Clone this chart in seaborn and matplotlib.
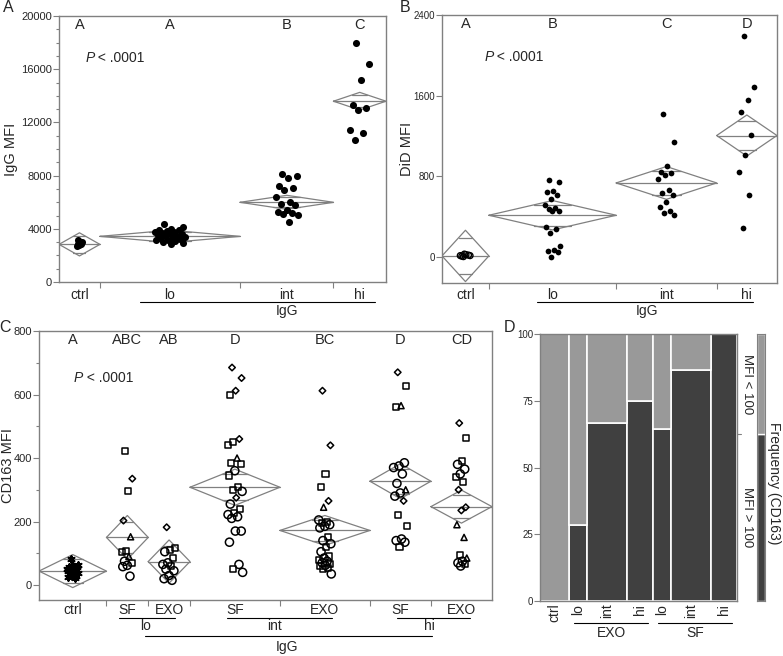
import numpy as np
import pandas as pd
import seaborn as sns
import matplotlib.pyplot as plt
from matplotlib.transforms import blended_transform_factory as blend

sns.set_style("ticks")
plt.rcParams['font.family'] = ['Liberation Sans', 'DejaVu Sans']

# ---- panel A: IgG MFI by IgG class
a_cats = ["ctrl", "lo", "int", "hi"]
a_vals = [
    [3150, 3050, 2950, 2900, 2850, 2800, 2750],
    [4400, 4150, 4000, 3950, 3900, 3850, 3800, 3750, 3700, 3650, 3600, 3550,
     3500, 3450, 3400, 3350, 3300, 3250, 3200, 3150, 3100, 3050, 2950, 2900],
    [8100, 7950, 7850, 7250, 7050, 6950, 6400, 6050, 5900, 5800, 5400, 5300,
     5200, 5100, 5050, 4500],
    [17950, 16400, 15200, 13300, 13100, 12950, 11400, 11200, 10700],
]
a_mean = [2835, 3437, 5997, 13599]
a_ci = [870, 465, 527, 665]
a_letters = ["A", "A", "B", "C"]

# ---- panel B: DiD MFI by IgG class
b_cats = ["ctrl", "lo", "int", "hi"]
b_vals = [
    [0, 10, 20, 5, 15, 25, 10],
    [765, 740, 655, 640, 615, 575, 510, 480, 470, 455, 450, 290, 275, 235,
     105, 65, 55, 50, 0],
    [1420, 1140, 905, 840, 830, 815, 770, 660, 635, 615, 540, 495, 455, 435, 415],
    [2190, 1685, 1560, 1435, 1210, 1005, 840, 615, 285],
]
b_mean = [7, 411, 732, 1203]
b_ci = [255, 146, 163, 204]
b_letters = ["A", "B", "C", "D"]

# ---- panel C: CD163 MFI by IgG class and source
c_cats = ["ctrl", "SF", "EXO", "SF", "EXO", "SF", "EXO"]
c_vals = [
    [82, 62, 60, 58, 56, 54, 52, 50, 48, 46, 45, 44, 42, 40, 38, 36, 34, 30,
     28, 25, 22],
    [423, 335, 295, 203, 152, 108, 104, 90, 75, 70, 62, 58, 28],
    [182, 118, 110, 105, 85, 70, 65, 60, 50, 45, 30, 20, 15],
    [685, 652, 612, 598, 460, 450, 440, 400, 385, 380, 360, 345, 310, 300,
     295, 275, 255, 240, 228, 222, 215, 210, 170, 170, 135, 65, 50, 40],
    [612, 440, 350, 310, 265, 245, 205, 200, 195, 190, 185, 180, 150, 140,
     130, 120, 105, 90, 85, 80, 75, 70, 65, 62, 60, 55, 50, 35],
    [670, 628, 565, 560, 385, 375, 370, 350, 320, 300, 290, 280, 265, 220,
     185, 145, 140, 135, 120],
    [510, 462, 390, 380, 365, 350, 340, 325, 300, 245, 235, 190, 150, 95, 85,
     75, 70, 65, 60],
]
c_shapes = [
    "*" * 21,
    "sDsD^ss^osooo",
    "Dssosoosooooo",
    "DDDsDss^ssossso" + "Dossoooooooso",
    "DDssD^ossooosoosososoosossso",
    "Ds^sooooo^ooDssooos",
    "DssooossDDD^^s^ooso",
]
c_mean = [44, 150, 74, 308, 172, 327, 247]
c_ci = [52, 69, 68, 57, 47, 55, 52]
c_letters = ["A", "ABC", "AB", "D", "BC", "D", "CD"]

# ---- panel D: mosaic of CD163 frequency
d_cats = ["ctrl", "lo", "int", "hi", "lo", "int", "hi"]
d_n = [11, 7, 15, 10, 7, 15, 10]
d_high = [0, 28.6, 66.7, 75, 64.3, 86.7, 100]   # % MFI > 100

GRAY = "#808080"
DARK = "#404040"
LIGHT = "#999999"


def layout(groups):
    n = np.array([len(g) for g in groups])
    edges = np.concatenate([[0], np.cumsum(n)])
    return edges, edges[:-1] + n / 2


def jitter(n, spread):
    k = np.arange(n)
    return ((k * 0.618034 + 0.31) % 1 - 0.5) * 2 * spread


def diamond(ax, x0, x1, m, h):
    xc = (x0 + x1) / 2
    kw = dict(color=GRAY, lw=0.9, zorder=2)
    ax.plot([x0, xc, x1, xc, x0], [m, m + h, m, m - h, m], **kw)
    ax.plot([x0, x1], [m, m], **kw)
    r = 1 / np.sqrt(2)
    hw = (x1 - x0) / 2 * (1 - r)
    for s in (1, -1):
        ax.plot([xc - hw, xc + hw], [m + s * h * r] * 2, **kw)


def frame(ax, ysize):
    for sp in ax.spines.values():
        sp.set_color(GRAY)
        sp.set_linewidth(1.0)
    ax.tick_params(axis='both', which='both', color=GRAY, width=0.8)
    ax.tick_params(axis='y', which='major', length=4, labelsize=ysize, pad=1)
    ax.tick_params(axis='y', which='minor', length=2)
    ax.tick_params(axis='x', which='major', length=4, labelbottom=False)


def oneway(ax, groups, means, cis, letters, cats, spreads, ylab_y, ysize):
    edges, centers = layout(groups)
    for i in range(len(groups)):
        diamond(ax, edges[i], edges[i + 1], means[i], cis[i])
    ax.set_xlim(edges[0], edges[-1])
    ax.set_xticks(edges[1:-1])
    tr = blend(ax.transData, ax.transAxes)
    for c, lab, let in zip(centers, cats, letters):
        ax.text(c, ylab_y, lab, transform=tr, ha='center', va='center', fontsize=10)
        ax.text(c, 0.966, let, transform=tr, ha='center', va='center', fontsize=10.5)
    frame(ax, ysize)
    rows = []
    for i, g in enumerate(groups):
        xs = centers[i] + jitter(len(g), spreads[i])
        for x, y in zip(xs, g):
            rows.append((i, x, y))
    return pd.DataFrame(rows, columns=["grp", "x", "y"])


def pval(ax, x, y):
    t = ax.text(x, y, "P", transform=ax.transAxes, fontsize=10,
                fontstyle='italic', va='center')
    ax.annotate(" < .0001", xy=(1, 0.5), xycoords=t, va='center',
                fontsize=10)


def bracket(ax, x0, x1, y, label=None, ly=None, lx=None):
    ax.plot([x0, x1], [y, y], transform=ax.transAxes, color='black', lw=0.8,
            clip_on=False)
    if label:
        ax.text((x0 + x1) / 2 if lx is None else lx, ly, label,
                transform=ax.transAxes, ha='center', va='center', fontsize=10)


fig = plt.figure(figsize=(7.83, 6.56), dpi=100)
ax_a = fig.add_axes([0.0754, 0.570, 0.4176, 0.4055])
ax_b = fig.add_axes([0.5645, 0.5686, 0.4278, 0.4085])
ax_c = fig.add_axes([0.0498, 0.0854, 0.5785, 0.410])
ax_d = fig.add_axes([0.6897, 0.0838, 0.2516, 0.407])
ax_s = fig.add_axes([0.9668, 0.0838, 0.0102, 0.407])

# ---------------- A
df_a = oneway(ax_a, a_vals, a_mean, a_ci, a_letters, a_cats,
              [0.5, 2.7, 2.0, 1.8], -0.049, 8)
sns.scatterplot(data=df_a, x="x", y="y", ax=ax_a, color='black', s=26,
                linewidth=0, legend=False, zorder=3)
ax_a.set_ylim(0, 20000)
ax_a.set_yticks(np.arange(0, 20001, 4000))
ax_a.set_yticks(np.arange(0, 20001, 1000), minor=True)
ax_a.set_xlabel("")
ax_a.set_ylabel("IgG MFI", fontsize=10.5)
ax_a.yaxis.set_label_coords(-0.125, 0.5)
pval(ax_a, 0.08, 0.842)
bracket(ax_a, 0.248, 0.966, -0.075, "IgG", -0.109, 0.697)

# ---------------- B
df_b = oneway(ax_b, b_vals, b_mean, b_ci, b_letters, b_cats,
              [0.8, 1.2, 1.3, 1.2], -0.045, 7)
sns.scatterplot(data=df_b[df_b.grp > 0], x="x", y="y", ax=ax_b, color='black',
                s=17, linewidth=0, legend=False, zorder=3)
sns.scatterplot(data=df_b[df_b.grp == 0], x="x", y="y", ax=ax_b,
                facecolor='none', edgecolor='black', s=18, linewidth=1.0,
                legend=False, zorder=3)
ax_b.set_ylim(-262, 2400)
ax_b.set_yticks([0, 800, 1600, 2400])
ax_b.set_xlabel("")
ax_b.set_ylabel("DiD MFI", fontsize=10.5)
ax_b.yaxis.set_label_coords(-0.084, 0.5)
pval(ax_b, 0.126, 0.842)
bracket(ax_b, 0.284, 0.928, -0.071, "IgG", -0.104, 0.612)

# ---------------- C
df_c = oneway(ax_c, c_vals, c_mean, c_ci, c_letters, c_cats,
              [1.8, 1.8, 2.0, 2.4, 2.0, 2.2, 1.8], -0.037, 8)
df_c["shape"] = list("".join(c_shapes))
mk = {"*": ((6, 2, 0), 22), "o": ("o", 34), "s": ("s", 19),
      "D": ("D", 11), "^": ("^", 19)}
for key, (m, s) in mk.items():
    sub = df_c[df_c["shape"] == key]
    if key == "*":
        sns.scatterplot(data=sub, x="x", y="y", ax=ax_c, marker=m, s=s,
                        color='black', linewidth=1.5, legend=False, zorder=3)
    else:
        sns.scatterplot(data=sub, x="x", y="y", ax=ax_c, marker=m, s=s,
                        facecolor='none', edgecolor='black', linewidth=1.1,
                        legend=False, zorder=3)
ax_c.set_ylim(-47, 800)
ax_c.set_yticks(np.arange(0, 801, 200))
ax_c.set_yticks(np.arange(0, 801, 100), minor=True)
ax_c.set_xlabel("")
ax_c.set_ylabel("CD163 MFI", fontsize=10.5)
ax_c.yaxis.set_label_coords(-0.052, 0.5)
pval(ax_c, 0.076, 0.824)
bracket(ax_c, 0.177, 0.300, -0.067, "lo", -0.097, 0.236)
bracket(ax_c, 0.415, 0.647, -0.067, "int", -0.097, 0.521)
bracket(ax_c, 0.790, 0.951, -0.067, "hi", -0.097, 0.861)
bracket(ax_c, 0.234, 0.868, -0.134, "IgG", -0.175, 0.547)

# ---------------- D
edges = np.concatenate([[0], np.cumsum(d_n)])
high = np.array(d_high)
ax_d.bar(edges[:-1], high, width=d_n, align='edge', color=DARK,
         edgecolor='white', linewidth=1.2)
ax_d.bar(edges[:-1], 100 - high, bottom=high, width=d_n, align='edge',
         color=LIGHT, edgecolor='white', linewidth=1.2)
ax_d.set_xlim(0, edges[-1])
ax_d.set_ylim(0, 100)
ax_d.set_yticks([0, 25, 50, 75, 100])
ax_d.set_xticks([])
frame(ax_d, 7)
tr = blend(ax_d.transData, ax_d.transAxes)
for c, lab in zip(edges[:-1] + np.array(d_n) / 2, d_cats):
    ax_d.text(c, -0.01, lab, transform=tr, rotation=90, ha='center', va='top',
              fontsize=10)
bracket(ax_d, 0.173, 0.548, -0.082, "EXO", -0.12)
bracket(ax_d, 0.599, 0.975, -0.082, "SF", -0.12)

marg = float(np.sum(np.array(d_n) * high) / np.sum(d_n))
tr2 = blend(ax_d.transAxes, ax_d.transData)
ax_d.plot([1.0, 1.02], [marg, marg], transform=tr2, color=GRAY, lw=0.8,
          clip_on=False)
ax_d.text(1.05, (100 + marg) / 2, "MFI < 100", transform=tr2, rotation=-90,
          ha='center', va='center', fontsize=9.5)
ax_d.text(1.05, marg / 2, "MFI > 100", transform=tr2, rotation=-90,
          ha='center', va='center', fontsize=9.5)

ax_s.bar(0, marg, width=1, color=DARK, edgecolor='white', linewidth=1)
ax_s.bar(0, 100 - marg, bottom=marg, width=1, color=LIGHT, edgecolor='white',
         linewidth=1)
ax_s.set_xlim(-0.5, 0.5)
ax_s.set_ylim(0, 100)
ax_s.set_xticks([])
ax_s.set_yticks([])
for sp in ax_s.spines.values():
    sp.set_color(GRAY)
fig.text(0.989, 0.2637, "Frequency (CD163)", rotation=-90, ha='center',
         va='center', fontsize=10)

# panel letters
for x, y, l in [(8, 8, "A"), (405, 8, "B"), (5, 327, "C"), (510, 327, "D")]:
    fig.text(x / 783, 1 - y / 656, l, ha='center', va='center', fontsize=11.5)

fig.savefig("out.png", dpi=100)
